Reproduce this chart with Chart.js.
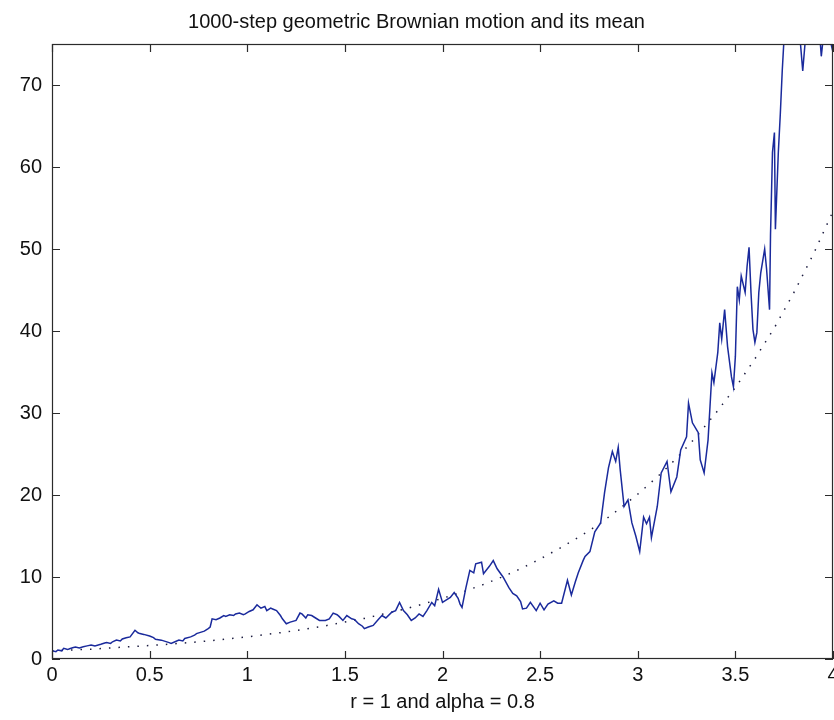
<!DOCTYPE html>
<html>
<head>
<meta charset="utf-8">
<title>Geometric Brownian motion</title>
<script src="https://cdn.jsdelivr.net/npm/chart.js@4.4.1/dist/chart.umd.min.js"></script>
<style>
  html, body { margin: 0; padding: 0; background: #fff; }
  #chart-wrapper { width: 834px; height: 720px; }
</style>
</head>
<body>
<div id="chart-wrapper"><canvas id="myChart" width="834" height="720"></canvas></div>
<script>
// Data: jalur GBM (waktu, nilai)
const waktu = [
  0.00, 0.02, 0.03, 0.05, 0.06, 0.08, 0.09, 0.11, 0.12, 0.14,
  0.16, 0.18, 0.20, 0.22, 0.25, 0.27, 0.28, 0.30, 0.31, 0.33,
  0.35, 0.36, 0.38, 0.40, 0.425, 0.44, 0.45, 0.47, 0.50, 0.52,
  0.53, 0.56, 0.58, 0.60, 0.61, 0.63, 0.65, 0.67, 0.68, 0.71,
  0.73, 0.74, 0.76, 0.78, 0.80, 0.81, 0.82, 0.84, 0.86, 0.88,
  0.89, 0.91, 0.93, 0.94, 0.96, 0.98, 0.99, 1.01, 1.03, 1.05,
  1.06, 1.07, 1.09, 1.10, 1.12, 1.13, 1.15, 1.17, 1.18, 1.20,
  1.22, 1.25, 1.27, 1.28, 1.30, 1.31, 1.33, 1.35, 1.37, 1.40,
  1.42, 1.44, 1.46, 1.47, 1.49, 1.51, 1.535, 1.55, 1.57, 1.59,
  1.60, 1.62, 1.645, 1.67, 1.69, 1.71, 1.74, 1.76, 1.78, 1.80,
  1.82, 1.84, 1.86, 1.88, 1.90, 1.92, 1.945, 1.96, 1.98, 2.00,
  2.02, 2.04, 2.06, 2.08, 2.09, 2.10, 2.12, 2.14, 2.16, 2.17,
  2.20, 2.21, 2.24, 2.26, 2.28, 2.31, 2.34, 2.36, 2.38, 2.40,
  2.41, 2.43, 2.45, 2.48, 2.50, 2.52, 2.54, 2.57, 2.59, 2.61,
  2.64, 2.66, 2.68, 2.695, 2.72, 2.73, 2.755, 2.78, 2.81, 2.83,
  2.85, 2.87, 2.887, 2.90, 2.91, 2.93, 2.95, 2.97, 2.99, 3.01,
  3.03, 3.045, 3.06, 3.07, 3.10, 3.12, 3.15, 3.17, 3.20, 3.22,
  3.25, 3.26, 3.28, 3.30, 3.31, 3.32, 3.34, 3.36, 3.37, 3.38,
  3.39, 3.41, 3.42, 3.43, 3.445, 3.46, 3.48, 3.49, 3.50, 3.51,
  3.52, 3.53, 3.55, 3.56, 3.57, 3.58, 3.59, 3.60, 3.61, 3.62,
  3.63, 3.65, 3.66, 3.67, 3.675, 3.68, 3.69, 3.70, 3.705, 3.72,
  3.73, 3.74, 3.75, 3.77, 3.79, 3.81, 3.83, 3.845, 3.86, 3.88,
  3.90, 3.92, 3.94, 3.96, 3.98, 4.00
];
const nilaiGBM = [
  1.0, 0.9, 1.1, 1.0, 1.3, 1.15, 1.25, 1.4, 1.45, 1.35,
  1.5, 1.6, 1.7, 1.6, 1.8, 1.95, 2.0, 1.9, 2.1, 2.3,
  2.2, 2.45, 2.6, 2.7, 3.5, 3.2, 3.1, 3.0, 2.8, 2.6,
  2.4, 2.3, 2.15, 2.0, 1.9, 2.1, 2.3, 2.2, 2.5, 2.7,
  2.9, 3.1, 3.25, 3.4, 3.7, 3.9, 4.9, 4.8, 5.0, 5.3,
  5.2, 5.4, 5.3, 5.5, 5.6, 5.4, 5.5, 5.8, 6.0, 6.6,
  6.4, 6.2, 6.4, 5.9, 6.2, 6.1, 5.9, 5.3, 4.9, 4.3,
  4.5, 4.7, 5.6, 5.5, 5.0, 5.4, 5.3, 5.0, 4.7, 4.7,
  4.9, 5.6, 5.4, 5.2, 4.7, 5.3, 4.9, 4.8, 4.3, 4.0,
  3.7, 3.9, 4.1, 4.8, 5.3, 5.0, 5.7, 5.9, 6.9, 5.9,
  5.4, 4.7, 5.0, 5.5, 5.2, 5.9, 6.9, 6.5, 8.5, 6.9,
  7.2, 7.5, 8.1, 7.4, 6.7, 6.3, 8.7, 10.8, 10.5, 11.6,
  11.8, 10.4, 11.3, 12.0, 11.0, 10.0, 8.7, 8.0, 7.7, 7.0,
  6.1, 6.2, 6.9, 5.9, 6.8, 6.0, 6.7, 7.1, 6.8, 6.8,
  9.6, 7.8, 9.4, 10.5, 12.0, 12.5, 13.1, 15.5, 16.6, 20.3,
  23.3, 25.3, 24.1, 25.8, 23.1, 18.6, 19.4, 16.6, 15.0, 13.1,
  17.3, 16.5, 17.3, 14.8, 18.6, 22.7, 24.1, 20.4, 22.2, 25.5,
  27.1, 31.2, 28.8, 28.0, 27.6, 24.3, 22.7, 26.7, 30.8, 34.9,
  33.7, 37.4, 41.0, 39.0, 42.6, 38.1, 34.4, 33.2, 36.9, 45.4,
  43.8, 46.7, 44.7, 47.9, 50.2, 44.7, 40.2, 38.6, 39.8, 44.7,
  47.1, 50.0, 47.5, 44.2, 42.6, 51.8, 61.8, 64.2, 52.4, 61.8,
  66.4, 71.7, 76.0, 80.0, 78.0, 79.0, 76.0, 71.7, 76.0, 80.0,
  77.0, 80.0, 73.5, 78.0, 76.0, 74.0
];

// Garis rata-rata (titik-titik), dibaca tiap 0.1
const waktuMean = [
  0.0, 0.1, 0.2, 0.3, 0.4, 0.5, 0.6, 0.7, 0.8, 0.9,
  1.0, 1.1, 1.2, 1.3, 1.4, 1.5, 1.6, 1.7, 1.8, 1.9,
  2.0, 2.1, 2.2, 2.3, 2.4, 2.5, 2.6, 2.7, 2.8, 2.9,
  3.0, 3.1, 3.2, 3.3, 3.4, 3.5, 3.6, 3.7, 3.8, 3.9,
  4.0
];
const nilaiMean = [
  1.0, 1.1, 1.2, 1.35, 1.5, 1.65, 1.8, 2.0, 2.2, 2.45,
  2.7, 3.0, 3.3, 3.65, 4.05, 4.5, 4.95, 5.5, 6.05, 6.7,
  7.4, 8.15, 9.0, 9.95, 11.0, 12.2, 13.5, 14.9, 16.4, 18.2,
  20.1, 22.2, 24.5, 27.1, 30.0, 33.1, 36.6, 40.4, 44.7, 49.4,
  54.6
];

// Label sumbu
const xTicks = [0, 0.5, 1, 1.5, 2, 2.5, 3, 3.5, 4];
const yTicks = [0, 10, 20, 30, 40, 50, 60, 70];

const fontUtama = "'Liberation Sans', Arial, Helvetica, sans-serif";
const warnaSumbu = "#2b2b2b";

// Kotak sumbu dan tick ke dalam ala MATLAB
const kotakPlugin = {
  id: "kotak",
  afterDraw: (chart) => {
    const { ctx, chartArea: a, scales } = chart;
    ctx.save();
    ctx.strokeStyle = warnaSumbu;
    ctx.lineWidth = 1.2;
    ctx.strokeRect(a.left + 0.5, a.top + 0.5, a.right - a.left - 1, a.bottom - a.top - 1);
    ctx.beginPath();
    scales.x.ticks.forEach((t) => {
      const px = Math.round(scales.x.getPixelForValue(t.value)) + 0.5;
      ctx.moveTo(px, a.bottom);
      ctx.lineTo(px, a.bottom - 8);
      ctx.moveTo(px, a.top);
      ctx.lineTo(px, a.top + 8);
    });
    scales.y.ticks.forEach((t) => {
      const py = Math.round(scales.y.getPixelForValue(t.value)) + 0.5;
      ctx.moveTo(a.left, py);
      ctx.lineTo(a.left + 8, py);
      ctx.moveTo(a.right, py);
      ctx.lineTo(a.right - 8, py);
    });
    ctx.stroke();
    ctx.restore();
  },
};

const data = {
  datasets: [
    {
      label: "GBM",
      data: waktu.map((t, i) => ({ x: t, y: nilaiGBM[i] })),
      borderColor: "#1a2a9c",
      borderWidth: 1.5,
      pointRadius: 0,
      tension: 0,
    },
    {
      label: "mean",
      data: waktuMean.map((t, i) => ({ x: t, y: nilaiMean[i] })),
      borderColor: "#1c1c40",
      borderWidth: 1.5,
      borderDash: [1.5, 8],
      pointRadius: 0,
      tension: 0,
    },
  ],
};

const config = {
  type: "line",
  data: data,
  plugins: [kotakPlugin],
  options: {
    responsive: false,
    animation: false,
    devicePixelRatio: 1,
    layout: { padding: { left: 0, right: 1, top: 0, bottom: 0 } },
    plugins: {
      legend: { display: false },
      tooltip: { enabled: false },
      title: {
        display: true,
        text: "1000-step geometric Brownian motion and its mean",
        color: "#111",
        font: { family: fontUtama, size: 20, weight: "normal" },
        padding: { top: 10, bottom: 10 },
      },
    },
    scales: {
      x: {
        type: "linear",
        min: 0,
        max: 4,
        afterBuildTicks: (scale) => {
          scale.ticks = xTicks.map((v) => ({ value: v }));
        },
        afterFit: (scale) => {
          scale.height = 61;
          scale.paddingLeft = 0;
          scale.paddingRight = 0;
        },
        grid: { display: false, drawTicks: false },
        border: { display: false },
        ticks: {
          padding: 4,
          color: "#111",
          maxRotation: 0,
          autoSkip: false,
          font: { family: fontUtama, size: 20 },
          callback: (v) => String(v),
        },
        title: {
          display: true,
          text: "r = 1 and alpha = 0.8",
          color: "#111",
          font: { family: fontUtama, size: 20 },
          padding: { top: 0, bottom: 6 },
        },
      },
      y: {
        type: "linear",
        min: 0,
        max: 75,
        afterBuildTicks: (scale) => {
          scale.ticks = yTicks.map((v) => ({ value: v }));
        },
        afterFit: (scale) => {
          scale.width = 52;
          scale.paddingTop = 0;
          scale.paddingBottom = 0;
        },
        grid: { display: false, drawTicks: false },
        border: { display: false },
        ticks: {
          padding: 10,
          color: "#111",
          autoSkip: false,
          font: { family: fontUtama, size: 20 },
          callback: (v) => String(v),
        },
      },
    },
  },
};

new Chart(document.getElementById("myChart"), config);
</script>
</body>
</html>
